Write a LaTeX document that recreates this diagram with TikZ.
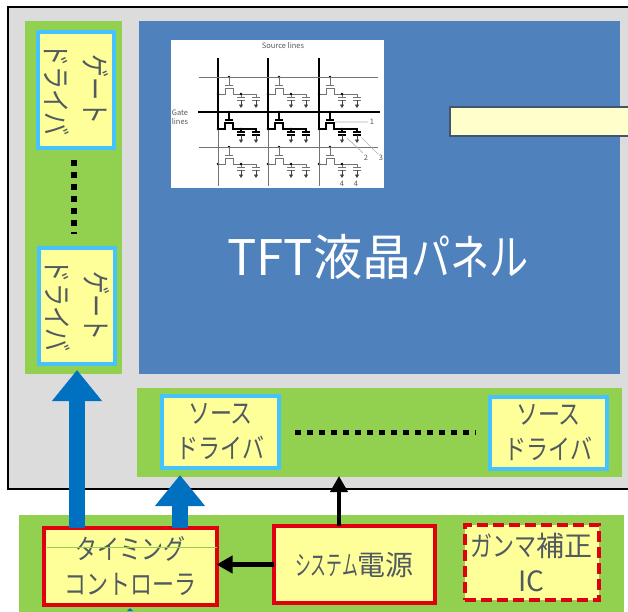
\documentclass[tikz,border=0pt]{standalone}
\usepackage{fontspec}
\usepackage{graphicx}
\setmainfont{Noto Sans CJK JP}
\newfontfamily\kana[FakeStretch=0.8]{Noto Sans CJK JP}
\newfontfamily\kanji{Noto Sans CJK JP}
\usetikzlibrary{arrows.meta,positioning}

\definecolor{panelgray}{HTML}{DCDCDC}
\definecolor{leaf}{HTML}{92D050}
\definecolor{panelblue}{HTML}{4F81BD}
\definecolor{chipfill}{HTML}{FFFF99}
\definecolor{notefill}{HTML}{FFFFCC}
\definecolor{noteedge}{HTML}{44546A}
\definecolor{skyedge}{HTML}{45C3FF}
\definecolor{rededge}{HTML}{DF0012}
\definecolor{inktext}{HTML}{505A60}
\definecolor{busblue}{HTML}{0070C0}

\newcommand{\bigkanji}[1]{{\kanji\fontsize{28}{35}\selectfont #1}}
\newcommand{\gatetext}{\hspace*{-8pt}\rotatebox{-90}{\begin{tabular}{@{}c@{}}ゲート\\[4pt]ドライバ\end{tabular}}}

\tikzset{
	zone/.style={fill=leaf,inner sep=0pt,outer sep=0pt},
	chip/.style={fill=chipfill,inner sep=0pt,outer sep=0pt,text=inktext,align=center,
		font=\kana\fontsize{27.5}{35}\selectfont},
	srcchip/.style={chip,draw=skyedge,line width=4pt,minimum width=117pt,minimum height=72pt},
	gatechip/.style={chip,draw=skyedge,line width=4pt,minimum width=76pt,minimum height=116pt,
		font=\kana\fontsize{29}{35}\selectfont},
	ctrlchip/.style={chip,draw=rededge,line width=4pt},
	busarrow/.style={line width=16pt,draw=busblue,-{Triangle[width=48pt,length=31pt]}},
	feedarrow/.style={line width=4.5pt,-{Triangle[width=17pt,length=16pt]}},
	gridthin/.style={draw=black!55,line width=1pt},
	gridthick/.style={draw=black,line width=2.2pt},
	tinytext/.style={text=black!65,inner sep=0pt,font=\fontsize{7.5}{9}\selectfont,align=center}
}

% one pixel cell of the inset: source x, gate y, pen
\newcommand{\tftcell}[3]{
	\draw[#3] (#1+11,#2) -- (#1+11,#2+8) (#1+7,#2+8) -- (#1+15,#2+8);
	\draw[#3] (#1,#2+17) -- (#1+7,#2+17) -- (#1+7,#2+11) -- (#1+15,#2+11) -- (#1+15,#2+17) -- (#1+38,#2+17) -- (#1+38,#2+20);
	\draw[#3] (#1+23,#2+17) -- (#1+23,#2+20);
	\foreach \capx in {23,38}{
		\draw[#3] (#1+\capx-4,#2+20) -- (#1+\capx+4,#2+20) (#1+\capx-4,#2+23) -- (#1+\capx+4,#2+23);
		\draw[black!75,line width=0.8pt,-{Triangle[width=4pt,length=3.5pt]}] (#1+\capx,#2+23) -- (#1+\capx,#2+31);
	}
	\fill[black] (#1+11,#2) circle (1.3pt) (#1+23,#2+17) circle (1.3pt) (#1,#2+17) circle (1.3pt);
}

\begin{document}
\begin{tikzpicture}[x=1pt,y=-1pt]
	\useasboundingbox (0,0) rectangle (628,611);

	% glass
	\fill[panelgray] (8,7) rectangle (640,489);
	\draw[black,line width=1.5pt] (640,489) -- (8,489) -- (8,7) -- (640,7);

	\node[zone,minimum width=97pt,minimum height=353pt] (gatezone) at (73.5,197.5) {};
	\node[zone,minimum width=485pt,minimum height=89pt] (sourcezone) at (379.5,432.5) {};
	\node[fill=panelblue,inner sep=0pt,minimum width=481pt,minimum height=353pt] (panel) at (379.5,197.5) {};
	\node[fill=leaf,inner sep=0pt,minimum width=605pt,minimum height=100pt] (boardzone) at (321.5,565) {};

	% inset
	\node[fill=white,inner sep=0pt,minimum width=213pt,minimum height=148pt] (inset) at (277.5,114) {};
	\node[tinytext] (srclabel) at (283,46) {Source lines};
	\node[tinytext] (gatelabel) at (180,117) {Gate\\lines};
	\foreach \gy/\pen in {77/gridthin,112/gridthick,147/gridthin}{
		\foreach \sx in {218,268,319}{
			\tftcell{\sx}{\gy}{\pen}
		}
	}
	\foreach \sx in {218,268,319}{
		\draw[gridthin] (\sx,130) -- (\sx,186);
		\draw[black,line width=2.4pt] (\sx,58) -- (\sx,130);
	}
	\draw[gridthin] (199,77) -- (378,77) (199,147) -- (378,147);
	\draw[black,line width=2.4pt] (198,112) -- (380,112);
	\draw[black!30,line width=0.7pt] (335,122) -- (368,122) (347,138) -- (363,153) (362,138) -- (378,154);
	\node[tinytext] (mark1) at (372,122) {1};
	\node[tinytext] (mark2) at (366,158) {2};
	\node[tinytext] (mark3) at (381,158) {3};
	\node[tinytext] (mark4a) at (342,184) {4};
	\node[tinytext] (mark4b) at (356,184) {4};

	\node[text=white,inner sep=0pt,font=\fontsize{49}{60}\selectfont] (paneltitle) at (378,257) {TFT液晶{\kana パネル}};
	\node[fill=notefill,draw=noteedge,line width=1.5pt,minimum width=190pt,minimum height=29pt,inner sep=0pt] (note) at (545,121.5) {};

	% drivers
	\node[gatechip] (gate1) at (75.5,89.5) {\gatetext};
	\node[gatechip] (gate2) at (77,306) {\gatetext};
	\draw[black,line width=6pt,dash pattern=on 6pt off 6pt,shorten >=14pt] (gate1.south) ++(-2,12) coordinate (gatedots) -- (gatedots |- gate2.north);
	\node[srcchip] (source1) at (220.5,432) {ソース\\ドライバ};
	\node[srcchip] (source2) at (548.5,433) {ソース\\ドライバ};
	\draw[black,line width=5pt,dash pattern=on 6pt off 6pt,shorten <=16pt,shorten >=14pt] (source1.east) -- (source1.east -| source2.west);

	% board
	\node[ctrlchip,minimum width=173pt,minimum height=77pt] (timing) at (130,566) {タイミング\\コントローラ};
	\node[ctrlchip,minimum width=161pt,minimum height=77pt] (power) at (354.5,564.5) {{\kana\scalebox{0.72}[1]{システム}}\bigkanji{電源}};
	\node[ctrlchip,dash pattern=on 11pt off 5pt,minimum width=134pt,minimum height=75pt] (gamma) at (531.5,562) {ガンマ\bigkanji{補正}\\\bigkanji{IC}};
	\draw[leaf,line width=0.7pt] (timing.west |- 0,547) ++(3,0) coordinate (ruleleft) -- (ruleleft -| timing.east);

	% buses
	\coordinate (gatein) at (77,370);
	\coordinate (sourcein) at (180,475);
	\coordinate (powerin) at (339,476);
	\draw[busarrow] (timing.north -| gatein) -- (gatein);
	\draw[busarrow] (timing.north -| sourcein) -- (sourcein);
	\draw[feedarrow] (power.north -| powerin) -- (powerin);
	\draw[feedarrow] (power.west) -- (power.west -| timing.east);
	\fill[busblue] (130,608) -- (127,611) -- (133,611) -- cycle;
\end{tikzpicture}
\end{document}
